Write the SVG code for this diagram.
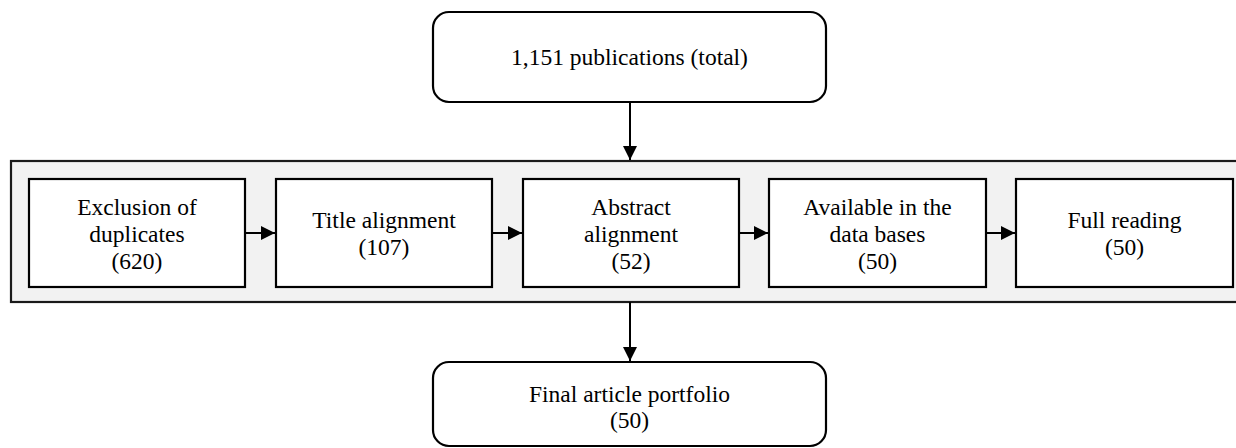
<svg xmlns="http://www.w3.org/2000/svg" width="1236" height="448" viewBox="0 0 1236 448">
<style>
  .t { font-family: "Liberation Serif", "Times New Roman", serif; font-size: 23.5px; fill: #000; text-anchor: middle; }
  .box { fill: #fff; stroke: #000; stroke-width: 2.2; }
  .rbox { fill: #fff; stroke: #000; stroke-width: 2.2; }
  .con { stroke: #000; stroke-width: 2; fill: none; }
</style>
<defs>
  <marker id="arr" viewBox="0 0 14 14" refX="14" refY="7" markerWidth="14" markerHeight="14" markerUnits="userSpaceOnUse" orient="auto">
    <path d="M0,0 L14,7 L0,14 Z" fill="#000"/>
  </marker>
</defs>
<rect width="1236" height="448" fill="#fff"/>
<g id="container">
  <rect x="11" y="161" width="1245" height="141" fill="#f2f2f2" stroke="#1a1a1a" stroke-width="2.2"/>
</g>
<g id="n-total">
  <rect class="rbox" x="433" y="12" width="393" height="90" rx="16"/>
  <text class="t" x="629.5" y="65">1,151 publications (total)</text>
</g>
<g id="n-dup">
  <rect class="box" x="29" y="179" width="216" height="108"/>
  <text class="t" x="137" y="215">Exclusion of</text>
  <text class="t" x="137" y="242">duplicates</text>
  <text class="t" x="137" y="269">(620)</text>
</g>
<g id="n-title">
  <rect class="box" x="276" y="179" width="216" height="108"/>
  <text class="t" x="384" y="228">Title alignment</text>
  <text class="t" x="384" y="255">(107)</text>
</g>
<g id="n-abstract">
  <rect class="box" x="523" y="179" width="216" height="108"/>
  <text class="t" x="631" y="215">Abstract</text>
  <text class="t" x="631" y="242">alignment</text>
  <text class="t" x="631" y="269">(52)</text>
</g>
<g id="n-available">
  <rect class="box" x="769" y="179" width="217" height="108"/>
  <text class="t" x="877.5" y="215">Available in the</text>
  <text class="t" x="877.5" y="242">data bases</text>
  <text class="t" x="877.5" y="269">(50)</text>
</g>
<g id="n-full">
  <rect class="box" x="1016" y="179" width="217" height="108"/>
  <text class="t" x="1124.5" y="228">Full reading</text>
  <text class="t" x="1124.5" y="255">(50)</text>
</g>
<g id="n-final">
  <rect class="rbox" x="433" y="362" width="393" height="84" rx="16"/>
  <text class="t" x="629.5" y="401.5">Final article portfolio</text>
  <text class="t" x="629.5" y="428">(50)</text>
</g>
<g id="connectors">
  <line class="con" x1="630" y1="102" x2="630" y2="160" marker-end="url(#arr)"/>
  <line class="con" x1="630" y1="302" x2="630" y2="361" marker-end="url(#arr)"/>
  <line class="con" x1="245" y1="233" x2="275" y2="233" marker-end="url(#arr)"/>
  <line class="con" x1="492" y1="233" x2="522" y2="233" marker-end="url(#arr)"/>
  <line class="con" x1="739" y1="233" x2="768" y2="233" marker-end="url(#arr)"/>
  <line class="con" x1="986" y1="233" x2="1015" y2="233" marker-end="url(#arr)"/>
</g>
</svg>
